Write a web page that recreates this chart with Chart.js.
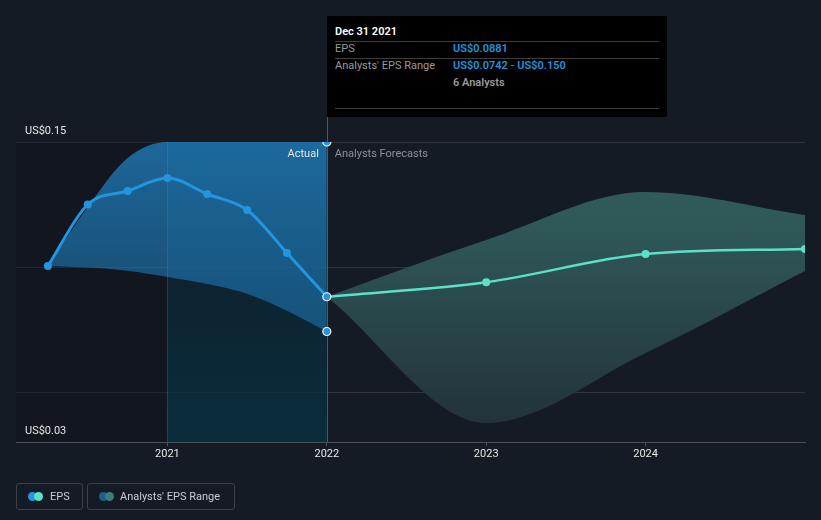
<!DOCTYPE html>
<html>
<head>
<meta charset="utf-8">
<script src="https://cdn.jsdelivr.net/npm/chart.js@4.4.1/dist/chart.umd.min.js"></script>
<style>
  html,body{margin:0;padding:0;background:#151b24;width:821px;height:520px;overflow:hidden;font-family:Roboto,"Open Sans",sans-serif;}
  #wrap{position:relative;width:821px;height:520px;}
  canvas{position:absolute;left:0;top:0;}
  .tip{position:absolute;left:327px;top:16px;width:340px;height:101px;background:#000;color:#ddd;font-size:11px;}
  .tip .row{position:absolute;left:8px;width:324px;}
  .tip .sep{position:absolute;left:8px;width:324px;height:1px;background:#3d3d3d;}
  .lab{color:#9a9a9a;position:absolute;left:0;}
  .val{color:#2394df;position:absolute;left:118px;font-weight:600;}
  .leg{position:absolute;top:483px;height:25px;border:1px solid #3c414a;border-radius:3px;color:#c9ccd1;font-size:11px;line-height:25px;}
  .dot{position:absolute;top:8px;width:9px;height:9px;border-radius:50%;}
</style>
</head>
<body>
<div id="wrap">
<canvas id="c" width="821" height="520"></canvas>
<div class="tip">
  <div class="row" style="top:9px;color:#fff;font-weight:600;">Dec 31 2021</div>
  <div class="sep" style="top:25px"></div>
  <div class="row" style="top:26px;height:16px;"><span class="lab">EPS</span><span class="val">US$0.0881</span></div>
  <div class="sep" style="top:42px"></div>
  <div class="row" style="top:43px;height:16px;"><span class="lab">Analysts' EPS Range</span><span class="val">US$0.0742 - US$0.150</span></div>
  <div class="row" style="top:60px;height:16px;"><span class="val" style="color:#9a9a9a">6 Analysts</span></div>
  <div class="sep" style="top:92px"></div>
</div>
<div class="leg" style="left:16px;width:65px;">
  <span class="dot" style="left:11px;background:#2394df"></span>
  <span class="dot" style="left:17px;background:#5ce1c8"></span>
  <span style="position:absolute;left:33px;">EPS</span>
</div>
<div class="leg" style="left:87px;width:146px;">
  <span class="dot" style="left:11px;background:#1d5f8c"></span>
  <span class="dot" style="left:17px;background:#3a7d79"></span>
  <span style="position:absolute;left:32px;">Analysts' EPS Range</span>
</div>
</div>
<script>
// ---- data ----
const actualDates   = [2020.25, 2020.5, 2020.75, 2021.0, 2021.25, 2021.5, 2021.75, 2022.0];
const epsActual     = [0.1004, 0.1250, 0.1304, 0.1356, 0.1292, 0.1228, 0.1056, 0.0881];
const actualHigh    = [0.1004, 0.1240, 0.1436, 0.1500, 0.1500, 0.1500, 0.1500, 0.1500];
const actualLow     = [0.1004, 0.0998, 0.0985, 0.0960, 0.0932, 0.0893, 0.0825, 0.0742];
const forecastDates = [2022.0, 2023.0, 2024.0, 2025.0];
const epsForecast   = [0.0881, 0.0939, 0.1052, 0.1072];
const forecastHigh  = [0.0881, 0.1108, 0.1300, 0.1208];
const forecastLow   = [0.0881, 0.0376, 0.0656, 0.0984];
const markerDate    = 2022.0;
const markerValues  = [0.150, 0.0881, 0.0742];
const xTicks        = [2021, 2022, 2023, 2024];
const yGrid         = [0.03, 0.05, 0.10, 0.15];
const yLabels       = [{v:0.15, t:'US$0.15'}, {v:0.03, t:'US$0.03'}];
const regionLabels  = {actual:'Actual', forecast:'Analysts Forecasts'};

const pts = (xs, ys) => xs.map((x,i)=>({x, y: ys[i]}));

function grad(ctx, area, stops){
  const g = ctx.createLinearGradient(0, area.top, 0, area.bottom);
  stops.forEach(s=>g.addColorStop(s[0], s[1]));
  return g;
}

const bgPlugin = {
  id:'bg',
  beforeDatasetsDraw(chart){
    const {ctx, chartArea:a, scales:{x,y}} = chart;
    const x1 = x.getPixelForValue(2021), x2 = x.getPixelForValue(2022);
    ctx.save();
    ctx.fillStyle = 'rgba(10,14,20,0.3)';
    ctx.fillRect(a.left, a.top, x1-a.left, a.bottom-a.top);
    ctx.fillStyle = grad(ctx, a, [[0,'rgba(14,30,44,0.6)'],[1,'rgba(9,48,64,0.9)']]);
    ctx.fillRect(x1, a.top, x2-x1, a.bottom-a.top);
    ctx.strokeStyle = 'rgba(40,110,150,0.45)';
    ctx.lineWidth = 1;
    ctx.beginPath();
    ctx.moveTo(Math.round(x1)+0.5, a.top); ctx.lineTo(Math.round(x1)+0.5, a.bottom);
    ctx.stroke();
    ctx.strokeStyle = 'rgba(40,120,170,0.8)';
    ctx.beginPath();
    ctx.moveTo(Math.round(x2)+0.5, 117); ctx.lineTo(Math.round(x2)+0.5, a.bottom);
    ctx.stroke();
    ctx.restore();
  },
  afterDraw(chart){
    const {ctx, chartArea:a, scales:{x,y}} = chart;
    ctx.save();
    ctx.font = '11px Roboto, sans-serif';
    ctx.textBaseline = 'middle';
    ctx.fillStyle = '#e6e6e6';
    ctx.textAlign = 'left';
    yLabels.forEach(l => ctx.fillText(l.t, a.left + 9, y.getPixelForValue(l.v) - 11));
    const xd = x.getPixelForValue(2022);
    const yt = y.getPixelForValue(0.15) + 12;
    ctx.textAlign = 'right';
    ctx.fillStyle = '#e6e6e6';
    ctx.fillText(regionLabels.actual, xd - 8, yt);
    ctx.textAlign = 'left';
    ctx.fillStyle = '#8d9199';
    ctx.fillText(regionLabels.forecast, xd + 8, yt);
    ctx.restore();
  }
};

new Chart(document.getElementById('c'), {
  type:'line',
  data:{
    datasets:[
      {label:'marker', data: markerValues.map(v=>({x:markerDate,y:v})), showLine:false,
       pointRadius:4, pointBackgroundColor:'#2394df', pointBorderColor:'#ffffff', pointBorderWidth:1.2},
      {label:'EPS', data: pts(actualDates, epsActual), borderColor:'#2394df', borderWidth:3,
       pointRadius:4, pointBackgroundColor:'#2394df', pointBorderWidth:0, cubicInterpolationMode:'monotone', fill:false},
      {label:'EPS forecast', data: pts(forecastDates, epsForecast), borderColor:'#5ce1c8', borderWidth:2.5,
       pointRadius: ctx => ctx.dataIndex===0 ? 0 : 4, pointBackgroundColor:'#5ce1c8', pointBorderWidth:0,
       cubicInterpolationMode:'monotone', fill:false},
      {label:'actual high', data: pts(actualDates, actualHigh), borderWidth:0, pointRadius:0,
       cubicInterpolationMode:'monotone', fill:'+1',
       backgroundColor: c => { const a=c.chart.chartArea; if(!a) return 'rgba(35,148,223,0.5)';
         return grad(c.chart.ctx, a, [[0,'rgba(35,148,223,0.64)'],[0.6,'rgba(35,148,223,0.42)'],[1,'rgba(35,148,223,0.3)']]); }},
      {label:'actual low', data: pts(actualDates, actualLow), borderWidth:0, pointRadius:0,
       cubicInterpolationMode:'monotone', fill:false},
      {label:'forecast high', data: pts(forecastDates, forecastHigh), borderWidth:0, pointRadius:0,
       cubicInterpolationMode:'monotone', fill:'+1',
       backgroundColor: c => { const a=c.chart.chartArea; if(!a) return 'rgba(70,150,145,0.4)';
         return grad(c.chart.ctx, a, [[0,'#33605f'],[0.3,'#2f5758'],[1,'#212f38']]); }},
      {label:'forecast low', data: pts(forecastDates, forecastLow), borderWidth:0, pointRadius:0,
       cubicInterpolationMode:'monotone', fill:false}
    ]
  },
  options:{
    responsive:false, animation:false,
    layout:{padding:{left:16, right:16, top:142, bottom:54}},
    plugins:{legend:{display:false}, tooltip:{enabled:false}},
    scales:{
      x:{type:'linear', min:2020.05, max:2025.0,
         afterBuildTicks: s => { s.ticks = xTicks.map(v=>({value:v})); },
         afterFit: s => { s.height = 24; },
         grid:{drawOnChartArea:false, drawTicks:true, tickLength:4, color:'#4b5058'},
         border:{display:true, color:'#4b5058', width:1},
         ticks:{color:'#e6e6e6', font:{family:'Roboto', size:11}, padding:2, maxRotation:0,
                callback: v => String(v)}},
      y:{type:'linear', min:0.03, max:0.15,
         afterBuildTicks: s => { s.ticks = yGrid.map(v=>({value:v})); },
         afterFit: s => { s.width = 0; },
         grid:{color:'#30353e', drawTicks:false, lineWidth:1},
         border:{display:false},
         ticks:{display:false}}
    }
  },
  plugins:[bgPlugin]
});
</script>
</body>
</html>
